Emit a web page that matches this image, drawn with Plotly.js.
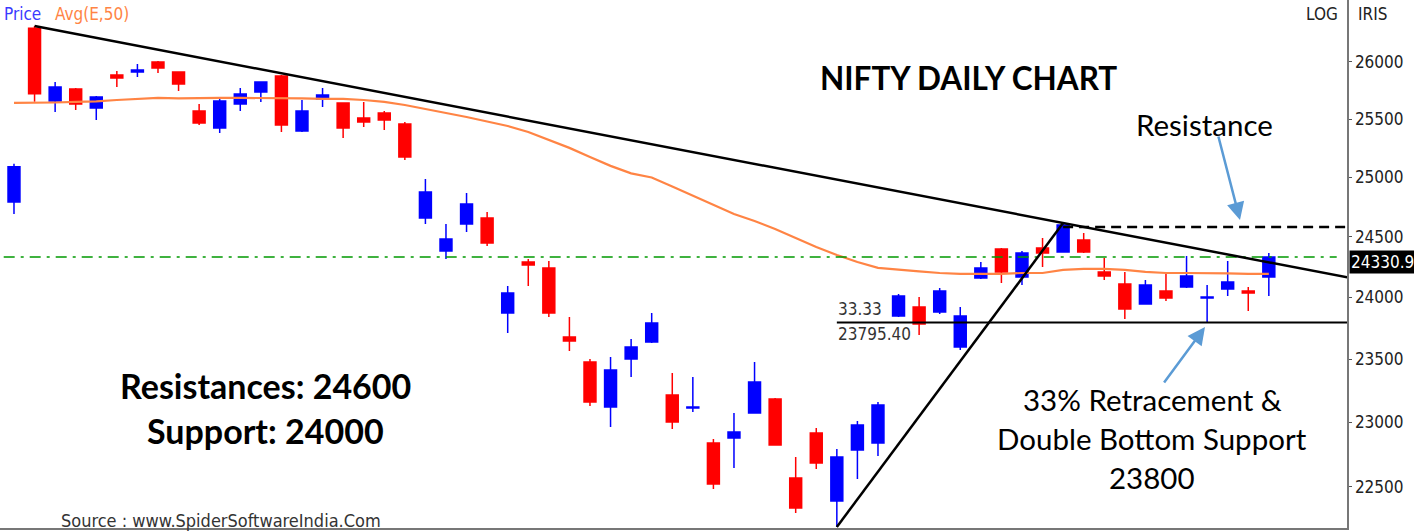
<!DOCTYPE html>
<html>
<head>
<meta charset="utf-8">
<script src="https://cdn.plot.ly/plotly-3.0.1.min.js"></script>
<style>
html,body{margin:0;padding:0;background:#fff;}
#chart{width:1414px;height:531px;}
</style>
</head>
<body>
<div id="chart"></div>
<script>
// ---- data ----
const openP  = [24790, 26300, 25657, 25762, 25596, 25885, 25912, 26000, 25912, 25570, 25423, 25631, 25736, 25876, 25397, 25675, 25640, 25509, 25553, 25457, 24656, 24381, 24606, 24656, 23872, 24290, 24241, 23678, 23477, 23121, 23501, 23638, 23215, 23113, 22839, 22878, 23074, 23184, 22569, 22917, 22393, 22785, 22839, 23848, 23921, 23880, 23598, 24158, 24398, 24166, 24406, 24372, 24472, 24208, 24109, 23945, 24051, 24084, 23994, 24068, 24051, 24166];
const highP  = [25115, 26320, 25824, 25770, 25701, 25920, 25982, 26009, 25915, 25631, 25692, 25771, 25830, 25885, 25666, 25771, 25645, 25649, 25570, 25475, 24985, 24606, 24867, 24707, 24092, 24315, 24298, 23840, 23501, 23517, 23662, 23872, 23390, 23358, 22870, 23074, 23477, 23192, 22731, 22956, 22793, 23011, 23160, 24027, 24003, 24076, 23921, 24290, 24406, 24381, 24489, 24614, 24531, 24323, 24208, 24142, 24191, 24339, 24101, 24298, 24084, 24364];
const lowP   = [24690, 25650, 25561, 25579, 25492, 25780, 25868, 25903, 25745, 25449, 25380, 25570, 25649, 25388, 25388, 25605, 25336, 25431, 25405, 25148, 24606, 24315, 24539, 24422, 23710, 24092, 23840, 23565, 23129, 22964, 23358, 23630, 22948, 23082, 22485, 22646, 23070, 22820, 22302, 22638, 22196, 22561, 22739, 23840, 23694, 23864, 23573, 24150, 24117, 24101, 24249, 24370, 24364, 24142, 23824, 23940, 23970, 24076, 23799, 24011, 23888, 24011];
const closeP = [25090, 25720, 25780, 25631, 25692, 25859, 25929, 25947, 25806, 25466, 25657, 25718, 25824, 25449, 25570, 25710, 25423, 25475, 25492, 25173, 24875, 24481, 24774, 24447, 24035, 24265, 23872, 23646, 23160, 23414, 23598, 23791, 23003, 23121, 22523, 22925, 23318, 22824, 22340, 22685, 22731, 22980, 23136, 24011, 23783, 24051, 23848, 24241, 24208, 24364, 24364, 24598, 24372, 24175, 23905, 24101, 23994, 24175, 24003, 24125, 24035, 24331];
const ema50  = [25640, 25640, 25644, 25649, 25653, 25666, 25675, 25684, 25680, 25684, 25684, 25684, 25684, 25684, 25680, 25675, 25675, 25666, 25649, 25622, 25588, 25553, 25518, 25479, 25440, 25388, 25319, 25251, 25173, 25097, 25033, 24998, 24922, 24846, 24765, 24690, 24631, 24564, 24489, 24414, 24348, 24290, 24241, 24224, 24212, 24199, 24191, 24191, 24191, 24199, 24199, 24224, 24232, 24232, 24224, 24208, 24199, 24199, 24199, 24195, 24191, 24191];

const yTicks = [22500, 23000, 23500, 24000, 24500, 25000, 25500, 26000];

// drawn lines (bar index, price)
const downTrendX = [2, 66],     downTrendY = [26320, 24157];
const upTrendX   = [41, 52],    upTrendY   = [22196, 24614];
const resistX    = [52, 66],    resistY    = [24580, 24580];
const retraceX   = [41, 66],    retraceY   = [23795.4, 23795.4];
const lastX      = [0.5, 65.3], lastY      = [24330.9, 24330.9];
const lastPrice = '24330.9';
const retraceLevel = '23795.40';
const retracePct = '33.33';

const idx = openP.map((_, i) => i + 1);

const traces = [
  {
    type: 'candlestick', x: idx, open: openP, high: highP, low: lowP, close: closeP,
    increasing: {line: {color: '#0000ff', width: 1.5}, fillcolor: '#0000ff'},
    decreasing: {line: {color: '#ff0000', width: 1.5}, fillcolor: '#ff0000'},
    whiskerwidth: 0, hoverinfo: 'skip', showlegend: false
  },
  {type: 'scatter', mode: 'lines', x: idx, y: ema50, line: {color: '#ff8444', width: 2.2}, hoverinfo: 'skip', showlegend: false},
  {type: 'scatter', mode: 'lines', x: lastX, y: lastY, line: {color: '#009900', width: 1.6, dash: '11px,6px,3px,6px'}, hoverinfo: 'skip', showlegend: false},
  {type: 'scatter', mode: 'lines', x: downTrendX, y: downTrendY, line: {color: '#000', width: 2.5}, hoverinfo: 'skip', showlegend: false},
  {type: 'scatter', mode: 'lines', x: upTrendX, y: upTrendY, line: {color: '#000', width: 2.5}, hoverinfo: 'skip', showlegend: false},
  {type: 'scatter', mode: 'lines', x: resistX, y: resistY, line: {color: '#000', width: 2.5, dash: '10px,6px'}, hoverinfo: 'skip', showlegend: false},
  {type: 'scatter', mode: 'lines', x: retraceX, y: retraceY, line: {color: '#000', width: 2}, hoverinfo: 'skip', showlegend: false}
];

const W = 1347, H = 528;
const px = v => v / W, py = v => 1 - v / H;
const lato = 'Lato, "Open Sans", sans-serif';
const dj = '"DejaVu Sans Condensed", "DejaVu Sans", sans-serif';

const ann = [
  {text: 'Price', x: px(2), y: py(14), xanchor: 'left', font: {family: dj, size: 17, color: '#3a3aff'}},
  {text: 'Avg(E,50)', x: px(53), y: py(14), xanchor: 'left', font: {family: dj, size: 17, color: '#ff8444'}},
  {text: 'LOG', x: px(1340), y: py(14), xanchor: 'right', font: {family: dj, size: 17, color: '#222'}},
  {text: 'IRIS', x: px(1356), y: py(14), xanchor: 'left', font: {family: dj, size: 17, color: '#222'}},
  {text: '<b>NIFTY DAILY CHART</b>', x: px(968), y: py(78), font: {family: lato, size: 31.5, color: '#000'}},
  {text: 'Resistance', x: px(1204), y: py(124), font: {family: lato, size: 29.5, color: '#000'}},
  {text: '<b>Resistances: 24600</b>', x: px(265), y: py(385), font: {family: lato, size: 34, color: '#000'}},
  {text: '<b>Support: 24000</b>', x: px(265), y: py(430), font: {family: lato, size: 34, color: '#000'}},
  {text: '33% Retracement &amp;', x: px(1152), y: py(399), font: {family: lato, size: 29.5, color: '#000'}},
  {text: 'Double Bottom Support', x: px(1152), y: py(438), font: {family: lato, size: 29.5, color: '#000'}},
  {text: '23800', x: px(1152), y: py(477), font: {family: lato, size: 29.5, color: '#000'}},
  {text: retracePct, x: px(836), y: py(309), xanchor: 'left', font: {family: dj, size: 17, color: '#333'}},
  {text: retraceLevel, x: px(836), y: py(334), xanchor: 'left', font: {family: dj, size: 17, color: '#333'}},
  {text: 'Source : www.SpiderSoftwareIndia.Com', x: px(59), y: py(520), xanchor: 'left', font: {family: dj, size: 18, color: '#333'}},
  {text: lastPrice, x: px(1349), y: py(262), xanchor: 'left', bgcolor: '#000', borderpad: 1, font: {family: dj, size: 17, color: '#fff'}},
  {text: '', x: px(1240), y: py(220), showarrow: true, ax: -22, ay: -85, arrowcolor: '#5b9bd5', arrowwidth: 2.5, arrowhead: 2, arrowsize: 1.4},
  {text: '', x: px(1205), y: py(327), showarrow: true, ax: -42, ay: 57, arrowcolor: '#5b9bd5', arrowwidth: 2.5, arrowhead: 2, arrowsize: 1.4}
].map(a => Object.assign({xref: 'paper', yref: 'paper', showarrow: false, xanchor: 'center', yanchor: 'middle'}, a));

const layout = {
  width: 1414, height: 531,
  margin: {l: 0, r: 1414 - W, t: 0, b: 531 - H, pad: 0},
  paper_bgcolor: '#fff', plot_bgcolor: '#fff',
  font: {family: dj, size: 17, color: '#222'},
  showlegend: false, hovermode: false,
  boxgap: 0.42, boxgroupgap: 0,
  xaxis: {
    type: 'linear', range: [0.32, 65.8], showgrid: false, zeroline: false,
    showticklabels: false, ticks: '', showline: true, linecolor: '#777', linewidth: 1.5,
    rangeslider: {visible: false}, fixedrange: true
  },
  yaxis: {
    type: 'log', side: 'right', range: [Math.log10(22188), Math.log10(26554)],
    tickvals: yTicks, ticktext: yTicks.map(String), ticks: 'outside', ticklen: 3, tickcolor: '#555',
    showgrid: false, zeroline: false, showline: true, linecolor: '#777', linewidth: 1.5,
    tickfont: {family: dj, size: 17, color: '#222'}, fixedrange: true
  },
  annotations: ann
};

Plotly.newPlot('chart', traces, layout, {displayModeBar: false, staticPlot: true});
</script>
</body>
</html>
